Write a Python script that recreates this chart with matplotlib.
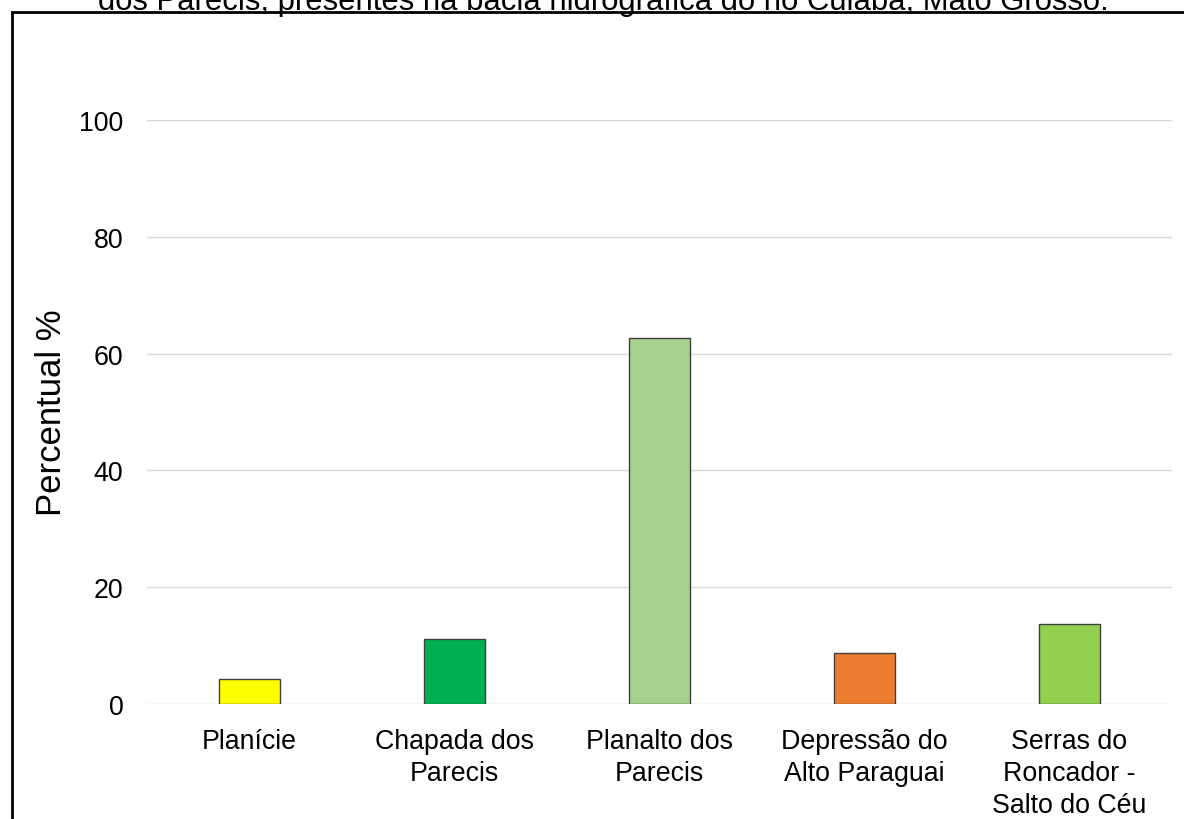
import matplotlib.pyplot as plt
from matplotlib.patches import Rectangle

# Compartimentos geomorfológicos e percentual de área
categorias = ['Planície', 'Chapada dos\nParecis', 'Planalto dos\nParecis',
              'Depressão do\nAlto Paraguai', 'Serras do\nRoncador -\nSalto do Céu']
percentual = [4.3, 11.1, 62.7, 8.7, 13.7]
cores = ['#FFFF00', '#00B050', '#A9D18E', '#ED7D31', '#92D050']
yticks = [0, 20, 40, 60, 80, 100]

plt.rcParams['font.family'] = ['Liberation Sans', 'DejaVu Sans']

fig = plt.figure(figsize=(11.84, 8.2), dpi=100)
ax = fig.add_axes([0.1242, 0.1402, 0.8657, 0.7122])

x = range(len(categorias))
ax.bar(x, percentual, width=0.3, color=cores, edgecolor='#404040',
       linewidth=1, zorder=3)

ax.set_xlim(-0.5, len(categorias) - 0.5)
ax.set_ylim(0, 100)
ax.set_yticks(yticks)
ax.set_xticks(list(x))
ax.set_xticklabels(categorias, fontsize=19.3, linespacing=1.32)
ax.tick_params(axis='y', labelsize=19.3, length=0, pad=17)
ax.tick_params(axis='x', length=0, pad=17)
ax.yaxis.grid(True, color='#d9d9d9', linewidth=1, zorder=0)
ax.set_axisbelow(True)
for s in ax.spines.values():
    s.set_visible(False)
ax.set_ylabel('Percentual %', fontsize=25)
ax.yaxis.set_label_coords(-0.077, 0.5)

# moldura do gráfico
fig.patches.append(Rectangle((12 / 1184, -0.1), 1.2, 1 - 13 / 820 + 0.1,
                             transform=fig.transFigure, fill=False,
                             edgecolor='black', linewidth=2))

# título (linha final visível)
fig.text(603 / 1184, 1 - 10 / 820,
         'dos Parecis, presentes na bacia hidrográfica do rio Cuiabá, Mato Grosso.',
         ha='center', va='baseline', fontsize=22.3)

fig.savefig('out.png', dpi=100)
